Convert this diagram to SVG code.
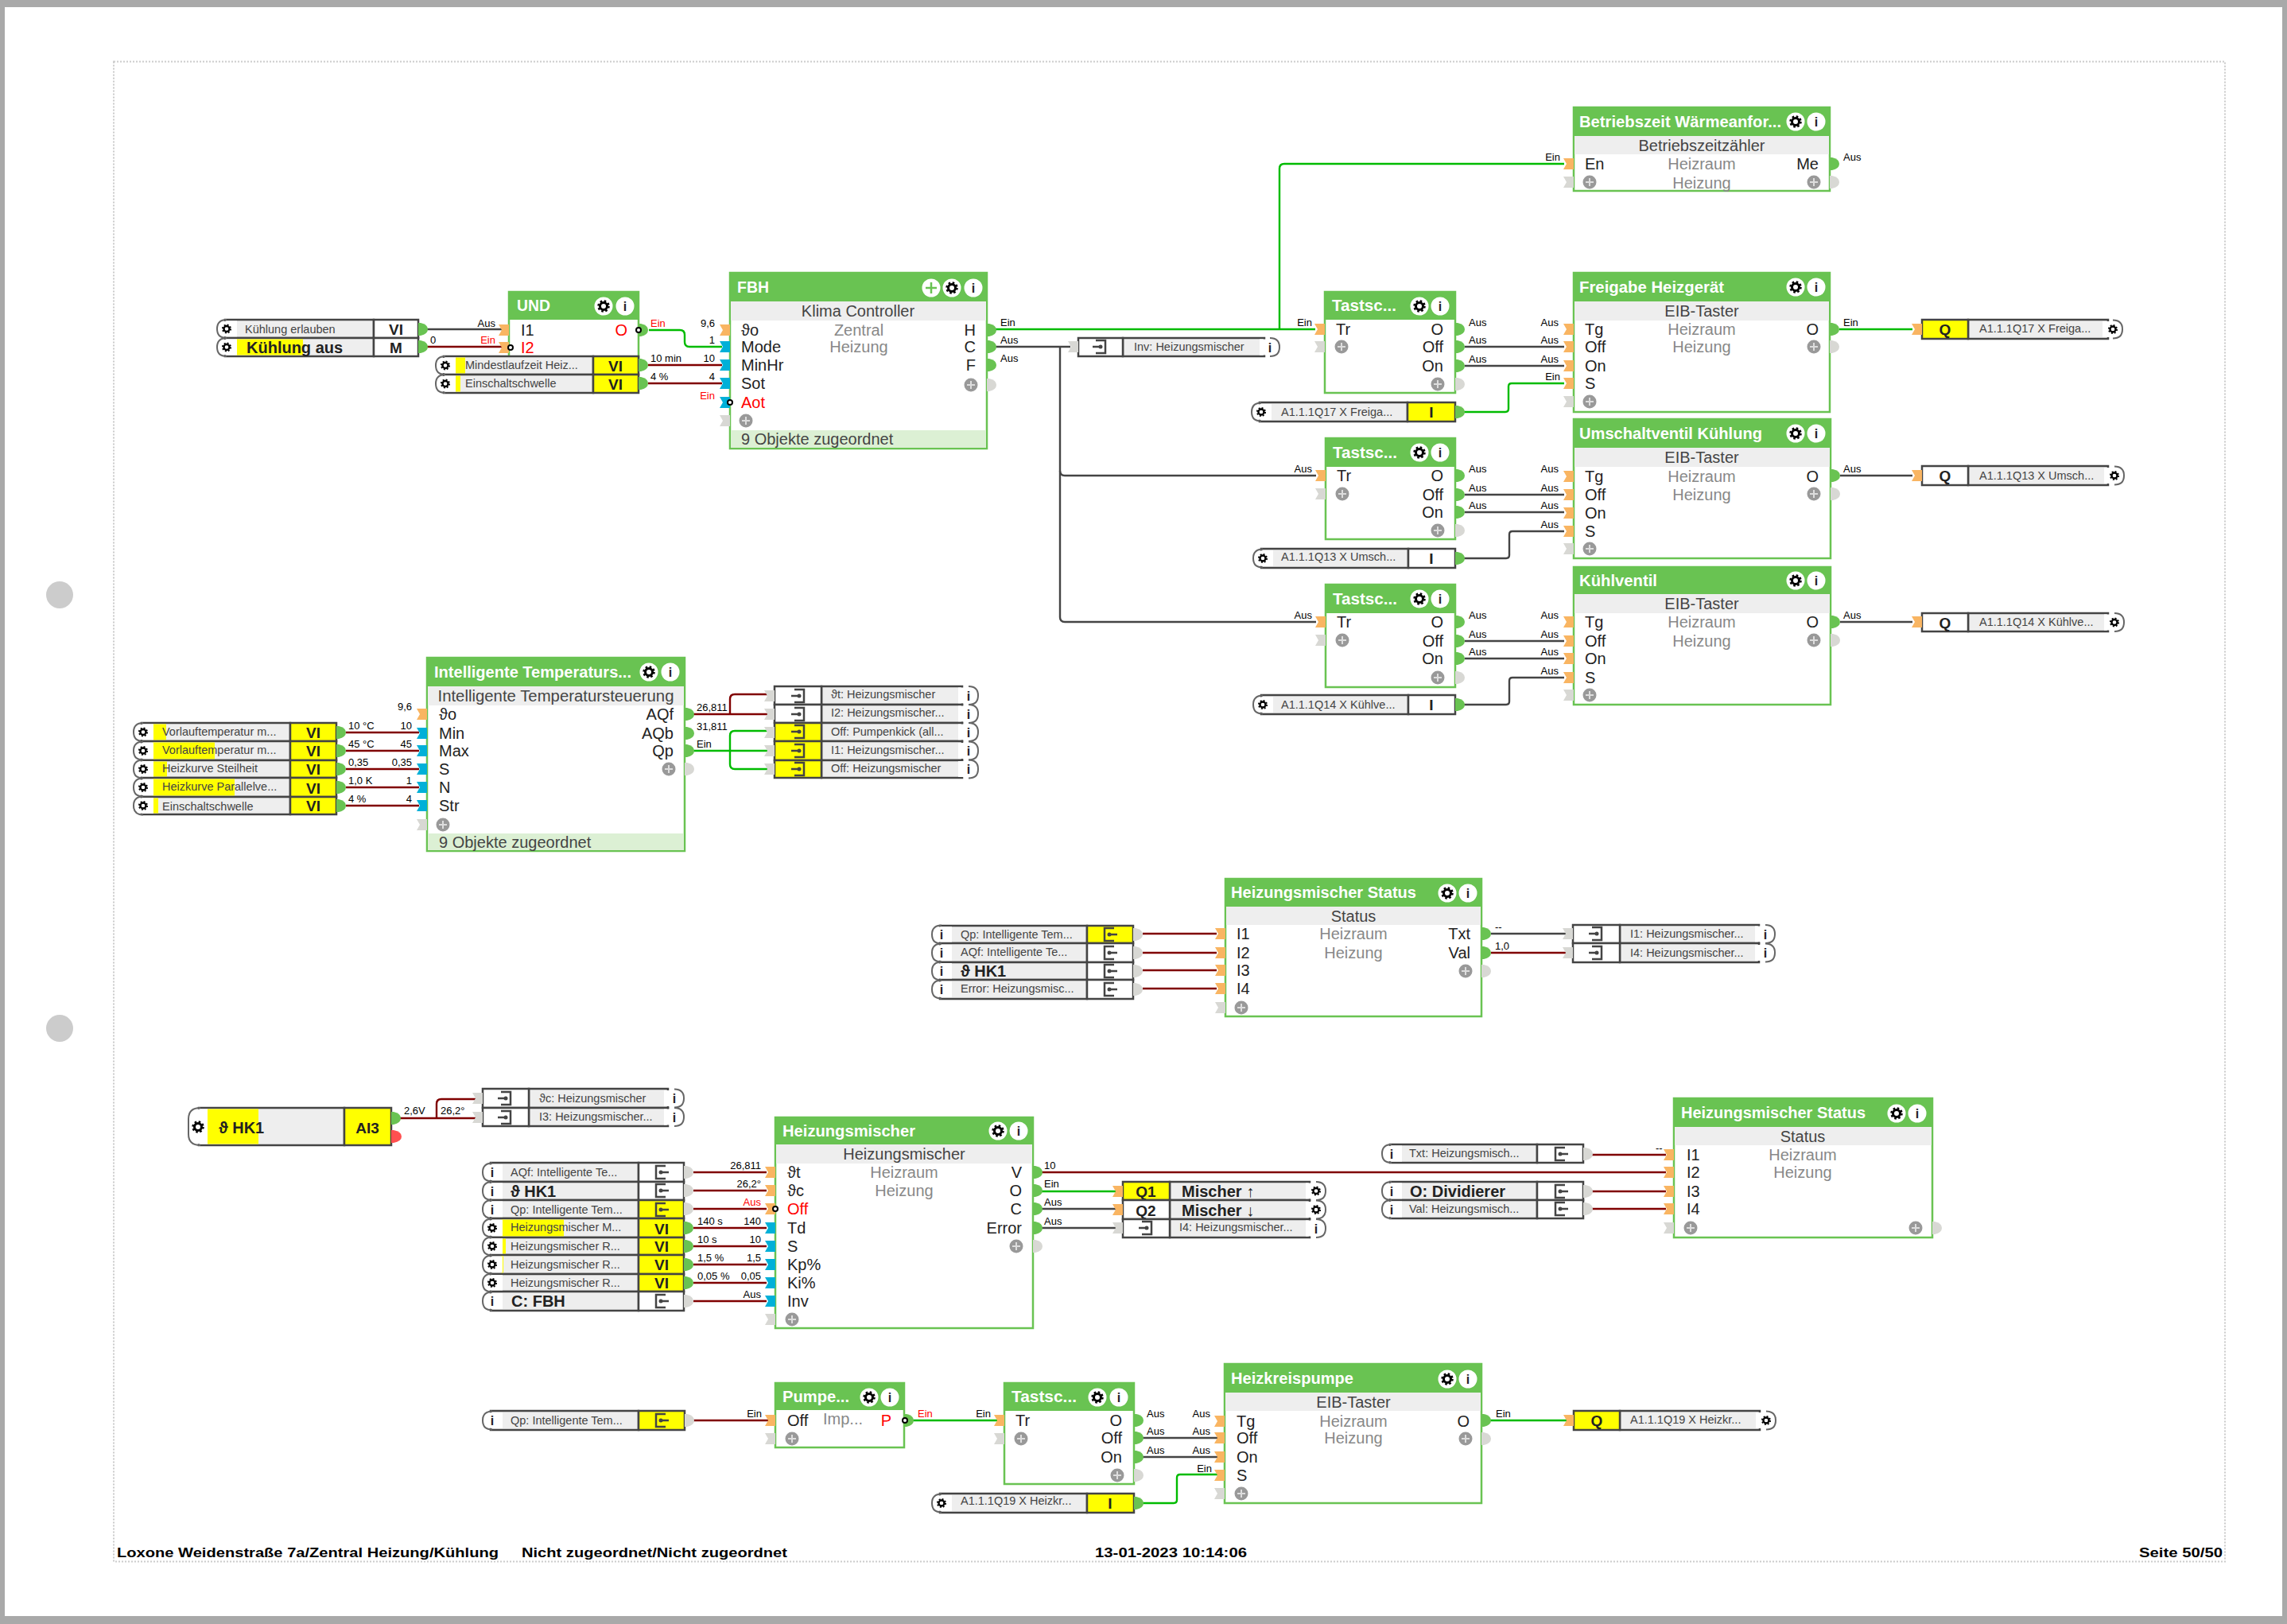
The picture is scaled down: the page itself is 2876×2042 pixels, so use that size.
<svg xmlns="http://www.w3.org/2000/svg" width="2876" height="2042" viewBox="0 0 2876 2042">
<style>
text{font-family:"Liberation Sans","DejaVu Sans",sans-serif}
.bb{fill:#fff;stroke:#69c352;stroke-width:2.5}
.hd{fill:#69c352}
.gb{fill:#eee}
.fb{fill:#dcf0d4}
.t{font-size:20px;font-weight:bold;fill:#fff}
.l{font-size:20px;fill:#222}
.e{font-size:20px;fill:#222;text-anchor:end}
.lr{font-size:20px;fill:#f00}
.er{font-size:20px;fill:#f00;text-anchor:end}
.c{font-size:20px;fill:#888;text-anchor:middle}
.g{font-size:20px;fill:#444;text-anchor:middle}
.o{font-size:20px;fill:#444}
.v{font-size:13px;fill:#000}
.ve{font-size:13px;fill:#000;text-anchor:end}
.r{font-size:13px;fill:#f00}
.re{font-size:13px;fill:#f00;text-anchor:end}
.s{font-size:14.500px;fill:#444}
.b{font-size:20px;font-weight:bold;fill:#222}
.k{font-size:19px;font-weight:bold;fill:#222;text-anchor:middle}
.f{font-size:17px;font-weight:bold;fill:#000}
.rb{fill:#eee;stroke:#444;stroke-width:2.5}
.rc{fill:#fff;stroke:#444;stroke-width:2.5}
.yc{fill:#ff0;stroke:#444;stroke-width:2.5}
.st{fill:#ff0}
.ii{font-size:16px;font-weight:bold;fill:#222;text-anchor:middle}
.w{fill:none;stroke-width:2.400}
.wr{stroke:#800000}
.wg{stroke:#00bb00}
.wk{stroke:#444}
</style>
<defs>
<g id="gear"><circle r="4.500" fill="none" stroke="#000" stroke-width="3"/><circle r="6.500" fill="none" stroke="#000" stroke-width="2.500" stroke-dasharray="2.500 2.600"/></g>
<g id="bg"><circle r="11.500" fill="#fff"/><use href="#gear"/></g>
<g id="bi"><circle r="11.500" fill="#fff"/><text class="ii" y="6">i</text></g>
<g id="bm"><circle r="11.500" fill="#fff"/><path d="M-7,0H7M0,-7V7" stroke="#69c352" stroke-width="2.500"/></g>
<g id="pi"><path d="M-13,-7H0V7H-13L-9,0Z" fill="#f9b562"/></g>
<g id="pb"><path d="M-13,-7H0V7H-13L-9,0Z" fill="#00b0d8"/></g>
<g id="pxl"><path d="M-13,-7H0V7H-13L-9,0Z" fill="#d8d8d4"/></g>
<g id="pg"><path d="M0,-8H3Q12,-6 12,0Q12,6 3,8H0Z" fill="#69c352"/></g>
<g id="pxr"><path d="M0,-8H3Q12,-6 12,0Q12,6 3,8H0Z" fill="#d8d8d4"/></g>
<g id="plus"><circle r="8.500" fill="#999"/><path d="M-5,0H5M0,-5V5" stroke="#ddd" stroke-width="2"/></g>
<g id="inv"><circle r="3" fill="#fff" stroke="#000" stroke-width="2"/></g>
<g id="capL"><path d="M25,-10H12Q2,-10 2,0Q2,10 12,10H25Z" fill="#fff"/><path d="M12,-11.500Q0,-11.500 0,0Q0,11.500 12,11.500" fill="none" stroke="#666" stroke-width="2"/></g>
<g id="capR"><path d="M-25,-10H-12Q-2,-10 -2,0Q-2,10 -12,10H-25Z" fill="#fff"/><path d="M-12,-11.500Q0,-11.500 0,0Q0,11.500 -12,11.500" fill="none" stroke="#666" stroke-width="2"/></g>
<g id="capLG"><use href="#capL"/><g transform="translate(12,0) scale(.78)"><use href="#gear"/></g></g>
<g id="capLI"><use href="#capL"/><text class="ii" x="12" y="6">i</text></g>
<g id="capRG"><use href="#capR"/><g transform="translate(-12,0) scale(.78)"><use href="#gear"/></g></g>
<g id="capRI"><use href="#capR"/><text class="ii" x="-12" y="6">i</text></g>
<g id="dIn"><path d="M-6,-8H6V8H-6M-10,0H0" fill="none" stroke="#444" stroke-width="2.500"/><circle r="2.500" fill="#444"/></g>
<g id="dOut"><path d="M6,-8H-6V8H6M0,0H10" fill="none" stroke="#444" stroke-width="2.500"/><circle r="2.500" fill="#444"/></g>
</defs>

<g id="page">
<rect width="2876" height="2042" fill="#a9a9a9"/>
<rect x="6" y="9" width="2864" height="2023" fill="#fff"/>
<rect x="143" y="77.500" width="2655" height="1886" fill="none" stroke="#ccc" stroke-width="2" stroke-dasharray="2 2"/>
<circle cx="75" cy="748" r="17" fill="#ccc"/>
<circle cx="75" cy="1293" r="17" fill="#ccc"/>
<text class="f" x="147" y="1958" textLength="480" lengthAdjust="spacingAndGlyphs">Loxone Weidenstraße 7a/Zentral Heizung/Kühlung</text>
<text class="f" x="656" y="1958" textLength="334" lengthAdjust="spacingAndGlyphs">Nicht zugeordnet/Nicht zugeordnet</text>
<text class="f" x="1377" y="1958" textLength="191" lengthAdjust="spacingAndGlyphs">13-01-2023 10:14:06</text>
<text class="f" x="2690" y="1958" textLength="105" lengthAdjust="spacingAndGlyphs">Seite 50/50</text>
</g>

<g id="connectors" class="w">
<path class="w wk" d="M536,414H632"/>
<path class="w wr" d="M536,436H632"/>
<path class="w wg" d="M816,415H855Q861,415 861,421V430Q861,436 867,436H908"/>
<path class="w wr" d="M815,459H908"/>
<path class="w wr" d="M815,482H908"/>
<path class="w wg" d="M1251,414H1654"/>
<path class="w wg" d="M1609,414V212Q1609,206 1615,206H1967"/>
<path class="w wk" d="M1251,436H1346"/>
<path class="w wk" d="M1333,436V592Q1333,598 1339,598H1655"/>
<path class="w wk" d="M1333,592V776Q1333,782 1339,782H1655"/>
<path class="w wk" d="M1842,436H1967"/>
<path class="w wk" d="M1842,460H1967"/>
<path class="w wg" d="M1840,518H1893Q1897,518 1897,514V486Q1897,482 1901,482H1967"/>
<path class="w wg" d="M2313,414H2405"/>
<path class="w wk" d="M1842,622H1967"/>
<path class="w wk" d="M1842,644H1967"/>
<path class="w wk" d="M1840,702H1894Q1898,702 1898,698V672Q1898,668 1902,668H1967"/>
<path class="w wk" d="M2314,598H2405"/>
<path class="w wk" d="M1842,806H1967"/>
<path class="w wk" d="M1842,828H1967"/>
<path class="w wk" d="M1840,886H1894Q1898,886 1898,882V856Q1898,852 1902,852H1967"/>
<path class="w wk" d="M2314,782H2405"/>
<path class="w wr" d="M435,921H527"/>
<path class="w wr" d="M435,944H527"/>
<path class="w wr" d="M435,967H527"/>
<path class="w wr" d="M435,990H527"/>
<path class="w wr" d="M435,1013H527"/>
<path class="w wr" d="M871,898H968"/>
<path class="w wr" d="M918,898V879Q918,873 924,873H968"/>
<path class="w wg" d="M871,944H968"/>
<path class="w wg" d="M918,944V925Q918,919 924,919H968"/>
<path class="w wg" d="M918,944V961Q918,967 924,967H968"/>
<path class="w wr" d="M1437,1174H1530"/>
<path class="w wr" d="M1437,1198H1530"/>
<path class="w wr" d="M1437,1220H1530"/>
<path class="w wr" d="M1437,1243H1530"/>
<path class="w wk" d="M1875,1174H1972"/>
<path class="w wr" d="M1875,1198H1972"/>
<path class="w wr" d="M502,1406H600"/>
<path class="w wr" d="M549,1406V1388Q549,1382 555,1382H600"/>
<path class="w wr" d="M872,1474H964"/>
<path class="w wr" d="M872,1497H964"/>
<path class="w wr" d="M872,1520H964"/>
<path class="w wr" d="M872,1544H964"/>
<path class="w wr" d="M872,1567H964"/>
<path class="w wr" d="M872,1590H964"/>
<path class="w wr" d="M872,1613H964"/>
<path class="w wr" d="M872,1636H964"/>
<path class="w wr" d="M1309,1474H2095"/>
<path class="w wg" d="M1309,1498H1405"/>
<path class="w wk" d="M1309,1520H1405"/>
<path class="w wk" d="M1309,1544H1405"/>
<path class="w wr" d="M2002,1452H2095"/>
<path class="w wr" d="M2002,1498H2095"/>
<path class="w wr" d="M2002,1520H2095"/>
<path class="w wr" d="M872,1786H968"/>
<path class="w wg" d="M1147,1786H1259"/>
<path class="w wk" d="M1436,1808H1533"/>
<path class="w wk" d="M1436,1832H1533"/>
<path class="w wg" d="M1436,1890H1476Q1480,1890 1480,1886V1858Q1480,1854 1484,1854H1533"/>
<path class="w wg" d="M1873,1786H1970"/>
</g>

<g id="und">
<rect class="bb" x="640" y="367" width="163" height="90"/><rect class="hd" x="640" y="367" width="163" height="35"/>
<text class="t" x="650" y="391" textLength="42" lengthAdjust="spacingAndGlyphs">UND</text>
<use href="#bg" x="759" y="385"/><use href="#bi" x="786" y="385"/>
<use href="#pi" x="640" y="415"/><use href="#pi" x="640" y="437"/><use href="#inv" x="642" y="437"/>
<text class="l" x="655" y="422">I1</text><text class="lr" x="655" y="444">I2</text>
<text class="er" x="789" y="422">O</text>
<use href="#pg" x="803" y="415"/><use href="#inv" x="803" y="415"/>
<text class="ve" x="623" y="411">Aus</text><text class="re" x="623" y="432">Ein</text><text class="v" x="541" y="432">0</text><text class="r" x="818" y="411">Ein</text>
</g>
<g id="kuehlung-erlauben"><rect class="rb" x="283" y="402" width="187" height="23"/><rect class="rc" x="470" y="402" width="56" height="23"/><use href="#capLG" x="273" y="413.500"/><text class="s" x="308" y="419">Kühlung erlauben</text><text class="k" x="498" y="421">VI</text><use href="#pg" x="526" y="414"/></g>
<g id="kuehlung-aus"><rect class="rb" x="283" y="425" width="187" height="23"/><rect class="st" x="296" y="426.500" width="85" height="20"/><rect class="rc" x="470" y="425" width="56" height="23"/><use href="#capLG" x="273" y="436.500"/><text class="b" x="310" y="444">Kühlung aus</text><text class="k" x="498" y="444">M</text><use href="#pg" x="526" y="436"/></g>
<g id="mindestlaufzeit"><rect class="rb" x="558" y="448" width="188" height="23"/><rect class="st" x="573" y="449.500" width="12" height="20"/><rect class="yc" x="746" y="448" width="57" height="23"/><use href="#capLG" x="548" y="459.500"/><text class="s" x="585" y="464">Mindestlaufzeit  Heiz...</text><text class="k" x="774" y="467">VI</text><use href="#pg" x="803" y="459"/></g>
<g id="einschaltschwelle-1"><rect class="rb" x="558" y="471" width="188" height="23"/><rect class="st" x="573" y="472.500" width="6" height="20"/><rect class="yc" x="746" y="471" width="57" height="23"/><use href="#capLG" x="548" y="482.500"/><text class="s" x="585" y="487">Einschaltschwelle</text><text class="k" x="774" y="490">VI</text><use href="#pg" x="803" y="482"/></g>
<text class="v" x="818" y="455">10 min</text><text class="ve" x="899" y="455">10</text><text class="v" x="818" y="478">4 %</text><text class="ve" x="899" y="478">4</text>

<g id="fbh">
<rect class="bb" x="918" y="343" width="323" height="221"/><rect class="hd" x="918" y="343" width="323" height="36"/><rect class="gb" x="919" y="379" width="321" height="24"/><rect class="fb" x="919" y="541" width="321" height="22"/>
<text class="t" x="927" y="368" textLength="40" lengthAdjust="spacingAndGlyphs">FBH</text>
<use href="#bm" x="1171" y="362"/><use href="#bg" x="1197" y="362"/><use href="#bi" x="1224" y="362"/>
<text class="g" x="1079" y="398">Klima Controller</text>
<use href="#pi" x="918" y="415"/><use href="#pb" x="918" y="436"/><use href="#pb" x="918" y="459"/><use href="#pb" x="918" y="482"/><use href="#pb" x="918" y="506"/><use href="#inv" x="918" y="506"/><use href="#pxl" x="918" y="529"/><use href="#plus" x="938" y="529"/>
<text class="l" x="932" y="422">ϑo</text><text class="l" x="932" y="443">Mode</text><text class="l" x="932" y="466">MinHr</text><text class="l" x="932" y="489">Sot</text><text class="lr" x="932" y="513">Aot</text>
<text class="c" x="1080" y="422">Zentral</text><text class="c" x="1080" y="443">Heizung</text>
<text class="e" x="1227" y="422">H</text><text class="e" x="1227" y="443">C</text><text class="e" x="1227" y="466">F</text>
<use href="#pg" x="1241" y="415"/><use href="#pg" x="1241" y="436"/><use href="#pg" x="1241" y="459"/><use href="#plus" x="1221" y="484"/><use href="#pxr" x="1241" y="484"/>
<text class="o" x="932" y="559">9 Objekte zugeordnet</text>
<text class="ve" x="899" y="411">9,6</text><text class="ve" x="899" y="432">1</text><text class="re" x="899" y="502">Ein</text>
<text class="v" x="1258" y="410">Ein</text><text class="v" x="1258" y="432">Aus</text><text class="v" x="1258" y="455">Aus</text>
</g>
<g id="inv-heizungsmischer"><rect class="rb" x="1412" y="425" width="178" height="23"/><rect class="rc" x="1356" y="425" width="56" height="23"/><use href="#pxl" x="1356" y="436"/><use href="#capRI" x="1609" y="436.500"/><use href="#dIn" x="1384" y="436"/><text class="s" x="1426" y="441">Inv: Heizungsmischer</text></g>

<g id="betriebszeit">
<rect class="bb" x="1979" y="135" width="322" height="105"/><rect class="hd" x="1979" y="135" width="322" height="36"/><rect class="gb" x="1980" y="171" width="320" height="23"/>
<text class="t" x="1986" y="160" textLength="254" lengthAdjust="spacingAndGlyphs">Betriebszeit Wärmeanfor...</text>
<use href="#bg" x="2258" y="153"/><use href="#bi" x="2284" y="153"/>
<text class="g" x="2140" y="190">Betriebszeitzähler</text>
<use href="#pi" x="1979" y="206"/><use href="#pxl" x="1979" y="229"/><use href="#plus" x="1999" y="229"/>
<text class="l" x="1993" y="213">En</text><text class="c" x="2140" y="213">Heizraum</text><text class="c" x="2140" y="237">Heizung</text><text class="e" x="2287" y="213">Me</text>
<use href="#pg" x="2301" y="206"/><use href="#plus" x="2281" y="229"/><use href="#pxr" x="2301" y="229"/>
<text class="ve" x="1962" y="202">Ein</text><text class="v" x="2318" y="202">Aus</text>
</g>

<g id="tastsc-1">
<rect class="bb" x="1666" y="367" width="164" height="127"/><rect class="hd" x="1666" y="367" width="164" height="35"/>
<text class="t" x="1675" y="391" textLength="81" lengthAdjust="spacingAndGlyphs">Tastsc...</text>
<use href="#bg" x="1785" y="385"/><use href="#bi" x="1811" y="385"/>
<use href="#pi" x="1666" y="414"/><use href="#pxl" x="1666" y="436"/><use href="#plus" x="1687" y="436"/>
<text class="l" x="1680" y="421">Tr</text><text class="e" x="1815" y="421">O</text><text class="e" x="1815" y="443">Off</text><text class="e" x="1815" y="467">On</text>
<use href="#pg" x="1830" y="414"/><use href="#pg" x="1830" y="436"/><use href="#pg" x="1830" y="460"/><use href="#plus" x="1808" y="483"/><use href="#pxr" x="1830" y="483"/>
<text class="ve" x="1650" y="410">Ein</text><text class="v" x="1847" y="410">Aus</text><text class="v" x="1847" y="432">Aus</text><text class="v" x="1847" y="456">Aus</text>
</g>
<g id="freigabe-heizgeraet">
<rect class="bb" x="1979" y="343" width="322" height="175"/><rect class="hd" x="1979" y="343" width="322" height="36"/><rect class="gb" x="1980" y="379" width="320" height="24"/>
<text class="t" x="1986" y="368" textLength="182" lengthAdjust="spacingAndGlyphs">Freigabe Heizgerät</text>
<use href="#bg" x="2258" y="361"/><use href="#bi" x="2284" y="361"/>
<text class="g" x="2140" y="398">EIB-Taster</text>
<use href="#pi" x="1979" y="414"/><use href="#pi" x="1979" y="436"/><use href="#pi" x="1979" y="460"/><use href="#pi" x="1979" y="482"/><use href="#pxl" x="1979" y="505"/><use href="#plus" x="1999" y="505"/>
<text class="l" x="1993" y="421">Tg</text><text class="l" x="1993" y="443">Off</text><text class="l" x="1993" y="467">On</text><text class="l" x="1993" y="489">S</text>
<text class="c" x="2140" y="421">Heizraum</text><text class="c" x="2140" y="443">Heizung</text><text class="e" x="2287" y="421">O</text>
<use href="#pg" x="2301" y="414"/><use href="#plus" x="2281" y="436"/><use href="#pxr" x="2301" y="436"/>
<text class="ve" x="1960" y="410">Aus</text><text class="ve" x="1960" y="432">Aus</text><text class="ve" x="1960" y="456">Aus</text><text class="ve" x="1962" y="478">Ein</text><text class="v" x="2318" y="410">Ein</text>
</g>
<g id="q17"><rect class="rb" x="2475" y="402" width="176" height="24"/><rect class="yc" x="2417" y="402" width="58" height="24"/><use href="#pi" x="2417" y="414"/><use href="#capRG" x="2669" y="414"/><text class="k" x="2446" y="421">Q</text><text class="s" x="2489" y="418">A1.1.1Q17 X Freiga...</text></g>
<g id="i17"><rect class="rb" x="1584" y="506" width="186" height="24"/><rect class="yc" x="1770" y="506" width="60" height="24"/><use href="#capLG" x="1574" y="518"/><use href="#pg" x="1830" y="518"/><text class="s" x="1611" y="523">A1.1.1Q17 X Freiga...</text><text class="k" x="1800" y="525">I</text></g>

<g id="tastsc-2">
<rect class="bb" x="1667" y="551" width="163" height="127"/><rect class="hd" x="1667" y="551" width="163" height="36"/>
<text class="t" x="1676" y="576" textLength="81" lengthAdjust="spacingAndGlyphs">Tastsc...</text>
<use href="#bg" x="1785" y="569"/><use href="#bi" x="1811" y="569"/>
<use href="#pi" x="1667" y="598"/><use href="#pxl" x="1667" y="621"/><use href="#plus" x="1688" y="621"/>
<text class="l" x="1681" y="605">Tr</text><text class="e" x="1815" y="605">O</text><text class="e" x="1815" y="629">Off</text><text class="e" x="1815" y="651">On</text>
<use href="#pg" x="1830" y="598"/><use href="#pg" x="1830" y="622"/><use href="#pg" x="1830" y="644"/><use href="#plus" x="1808" y="667"/><use href="#pxr" x="1830" y="667"/>
<text class="ve" x="1650" y="594">Aus</text><text class="v" x="1847" y="594">Aus</text><text class="v" x="1847" y="618">Aus</text><text class="v" x="1847" y="640">Aus</text>
</g>
<g id="umschaltventil">
<rect class="bb" x="1979" y="527" width="323" height="175"/><rect class="hd" x="1979" y="527" width="323" height="36"/><rect class="gb" x="1980" y="563" width="321" height="24"/>
<text class="t" x="1986" y="552" textLength="230" lengthAdjust="spacingAndGlyphs">Umschaltventil Kühlung</text>
<use href="#bg" x="2258" y="545"/><use href="#bi" x="2284" y="545"/>
<text class="g" x="2140" y="582">EIB-Taster</text>
<use href="#pi" x="1979" y="599"/><use href="#pi" x="1979" y="622"/><use href="#pi" x="1979" y="645"/><use href="#pi" x="1979" y="668"/><use href="#pxl" x="1979" y="690"/><use href="#plus" x="1999" y="690"/>
<text class="l" x="1993" y="606">Tg</text><text class="l" x="1993" y="629">Off</text><text class="l" x="1993" y="652">On</text><text class="l" x="1993" y="675">S</text>
<text class="c" x="2140" y="606">Heizraum</text><text class="c" x="2140" y="629">Heizung</text><text class="e" x="2287" y="606">O</text>
<use href="#pg" x="2302" y="598"/><use href="#plus" x="2281" y="621"/><use href="#pxr" x="2302" y="621"/>
<text class="ve" x="1960" y="594">Aus</text><text class="ve" x="1960" y="618">Aus</text><text class="ve" x="1960" y="640">Aus</text><text class="ve" x="1960" y="664">Aus</text><text class="v" x="2318" y="594">Aus</text>
</g>
<g id="q13"><rect class="rb" x="2475" y="586" width="176" height="24"/><rect class="rc" x="2417" y="586" width="58" height="24"/><use href="#pi" x="2417" y="598"/><use href="#capRG" x="2671" y="598"/><text class="k" x="2446" y="605">Q</text><text class="s" x="2489" y="603">A1.1.1Q13 X Umsch...</text></g>
<g id="i13"><rect class="rb" x="1586" y="690" width="185" height="24"/><rect class="rc" x="1771" y="690" width="59" height="24"/><use href="#capLG" x="1576" y="702"/><use href="#pg" x="1830" y="702"/><text class="s" x="1611" y="705">A1.1.1Q13 X Umsch...</text><text class="k" x="1800" y="709">I</text></g>

<g id="tastsc-3">
<rect class="bb" x="1667" y="735" width="163" height="129"/><rect class="hd" x="1667" y="735" width="163" height="36"/>
<text class="t" x="1676" y="760" textLength="81" lengthAdjust="spacingAndGlyphs">Tastsc...</text>
<use href="#bg" x="1785" y="753"/><use href="#bi" x="1811" y="753"/>
<use href="#pi" x="1667" y="782"/><use href="#pxl" x="1667" y="805"/><use href="#plus" x="1688" y="805"/>
<text class="l" x="1681" y="789">Tr</text><text class="e" x="1815" y="789">O</text><text class="e" x="1815" y="813">Off</text><text class="e" x="1815" y="835">On</text>
<use href="#pg" x="1830" y="782"/><use href="#pg" x="1830" y="806"/><use href="#pg" x="1830" y="828"/><use href="#plus" x="1808" y="852"/><use href="#pxr" x="1830" y="852"/>
<text class="ve" x="1650" y="778">Aus</text><text class="v" x="1847" y="778">Aus</text><text class="v" x="1847" y="802">Aus</text><text class="v" x="1847" y="824">Aus</text>
</g>
<g id="kuehlventil">
<rect class="bb" x="1979" y="713" width="323" height="173"/><rect class="hd" x="1979" y="713" width="323" height="34"/><rect class="gb" x="1980" y="747" width="321" height="24"/>
<text class="t" x="1986" y="737" textLength="98" lengthAdjust="spacingAndGlyphs">Kühlventil</text>
<use href="#bg" x="2258" y="730"/><use href="#bi" x="2284" y="730"/>
<text class="g" x="2140" y="766">EIB-Taster</text>
<use href="#pi" x="1979" y="782"/><use href="#pi" x="1979" y="806"/><use href="#pi" x="1979" y="828"/><use href="#pi" x="1979" y="852"/><use href="#pxl" x="1979" y="874"/><use href="#plus" x="1999" y="874"/>
<text class="l" x="1993" y="789">Tg</text><text class="l" x="1993" y="813">Off</text><text class="l" x="1993" y="835">On</text><text class="l" x="1993" y="859">S</text>
<text class="c" x="2140" y="789">Heizraum</text><text class="c" x="2140" y="813">Heizung</text><text class="e" x="2287" y="789">O</text>
<use href="#pg" x="2302" y="782"/><use href="#plus" x="2281" y="805"/><use href="#pxr" x="2302" y="805"/>
<text class="ve" x="1960" y="778">Aus</text><text class="ve" x="1960" y="802">Aus</text><text class="ve" x="1960" y="824">Aus</text><text class="ve" x="1960" y="848">Aus</text><text class="v" x="2318" y="778">Aus</text>
</g>
<g id="q14"><rect class="rb" x="2475" y="771" width="176" height="23"/><rect class="rc" x="2417" y="771" width="58" height="23"/><use href="#pi" x="2417" y="782"/><use href="#capRG" x="2671" y="782.500"/><text class="k" x="2446" y="790">Q</text><text class="s" x="2489" y="787">A1.1.1Q14 X Kühlve...</text></g>
<g id="i14"><rect class="rb" x="1586" y="874" width="185" height="24"/><rect class="rc" x="1771" y="874" width="59" height="24"/><use href="#capLG" x="1576" y="886"/><use href="#pg" x="1830" y="886"/><text class="s" x="1611" y="891">A1.1.1Q14 X Kühlve...</text><text class="k" x="1800" y="893">I</text></g>

<g id="intelligente-temperatursteuerung">
<rect class="bb" x="537" y="827" width="324" height="243"/><rect class="hd" x="537" y="827" width="324" height="36"/><rect class="gb" x="538" y="863" width="322" height="24"/><rect class="fb" x="538" y="1048" width="322" height="21"/>
<text class="t" x="546" y="852" textLength="248" lengthAdjust="spacingAndGlyphs">Intelligente Temperaturs...</text>
<use href="#bg" x="816" y="845"/><use href="#bi" x="843" y="845"/>
<text class="g" x="699" y="882" textLength="297" lengthAdjust="spacingAndGlyphs">Intelligente Temperatursteuerung</text>
<use href="#pi" x="537" y="898"/><use href="#pb" x="537" y="922"/><use href="#pb" x="537" y="944"/><use href="#pb" x="537" y="967"/><use href="#pb" x="537" y="990"/><use href="#pb" x="537" y="1013"/><use href="#pxl" x="537" y="1037"/><use href="#plus" x="557" y="1037"/>
<text class="l" x="552" y="905">ϑo</text><text class="l" x="552" y="929">Min</text><text class="l" x="552" y="951">Max</text><text class="l" x="552" y="974">S</text><text class="l" x="552" y="997">N</text><text class="l" x="552" y="1020">Str</text>
<text class="e" x="847" y="905">AQf</text><text class="e" x="847" y="929">AQb</text><text class="e" x="847" y="951">Qp</text>
<use href="#pg" x="861" y="898"/><use href="#pg" x="861" y="922"/><use href="#pg" x="861" y="944"/><use href="#plus" x="841" y="967"/><use href="#pxr" x="861" y="967"/>
<text class="o" x="552" y="1066">9 Objekte zugeordnet</text>
<text class="ve" x="518" y="893">9,6</text>
<text class="v" x="876" y="894">26,811</text><text class="v" x="876" y="918">31,811</text><text class="v" x="876" y="940">Ein</text>
<text class="v" x="438" y="917">10 °C</text><text class="ve" x="518" y="917">10</text>
<text class="v" x="438" y="940">45 °C</text><text class="ve" x="518" y="940">45</text>
<text class="v" x="438" y="963">0,35</text><text class="ve" x="518" y="963">0,35</text>
<text class="v" x="438" y="986">1,0 K</text><text class="ve" x="518" y="986">1</text>
<text class="v" x="438" y="1009">4 %</text><text class="ve" x="518" y="1009">4</text>
</g>
<g id="vi-1"><rect class="rb" x="178" y="909" width="187" height="23"/><rect class="st" x="192" y="910.500" width="17" height="20"/><rect class="yc" x="365" y="909" width="58" height="23"/><use href="#capLG" x="168" y="920.500"/><use href="#pg" x="423" y="921"/><text class="s" x="204" y="925">Vorlauftemperatur  m...</text><text class="k" x="394" y="928">VI</text></g>
<g id="vi-2"><rect class="rb" x="178" y="932" width="187" height="24"/><rect class="st" x="192" y="933.500" width="78" height="21"/><rect class="yc" x="365" y="932" width="58" height="24"/><use href="#capLG" x="168" y="944"/><use href="#pg" x="423" y="944"/><text class="s" x="204" y="948">Vorlauftemperatur  m...</text><text class="k" x="394" y="951">VI</text></g>
<g id="vi-3"><rect class="rb" x="178" y="956" width="187" height="22"/><rect class="st" x="192" y="957.500" width="18" height="19"/><rect class="yc" x="365" y="956" width="58" height="22"/><use href="#capLG" x="168" y="967"/><use href="#pg" x="423" y="967"/><text class="s" x="204" y="971">Heizkurve Steilheit</text><text class="k" x="394" y="974">VI</text></g>
<g id="vi-4"><rect class="rb" x="178" y="978" width="187" height="24"/><rect class="st" x="192" y="979.500" width="103" height="21"/><rect class="yc" x="365" y="978" width="58" height="24"/><use href="#capLG" x="168" y="990"/><use href="#pg" x="423" y="990"/><text class="s" x="204" y="994">Heizkurve Parallelve...</text><text class="k" x="394" y="998">VI</text></g>
<g id="vi-5"><rect class="rb" x="178" y="1002" width="187" height="22"/><rect class="st" x="192" y="1003.500" width="7" height="19"/><rect class="yc" x="365" y="1002" width="58" height="22"/><use href="#capLG" x="168" y="1013"/><use href="#pg" x="423" y="1013"/><text class="s" x="204" y="1019">Einschaltschwelle</text><text class="k" x="394" y="1020">VI</text></g>
<g id="ref-1"><rect class="rb" x="1033" y="863" width="177" height="23"/><rect class="rc" x="974" y="863" width="59" height="23"/><use href="#pxl" x="974" y="875"/><use href="#capRI" x="1230" y="874.500"/><use href="#dIn" x="1005" y="875"/><text class="s" x="1045" y="878">ϑt: Heizungsmischer</text></g>
<g id="ref-2"><rect class="rb" x="1033" y="886" width="177" height="23"/><rect class="rc" x="974" y="886" width="59" height="23"/><use href="#pxl" x="974" y="898"/><use href="#capRI" x="1230" y="897.500"/><use href="#dIn" x="1005" y="898"/><text class="s" x="1045" y="901">I2: Heizungsmischer...</text></g>
<g id="ref-3"><rect class="rb" x="1033" y="909" width="177" height="23"/><rect class="yc" x="974" y="909" width="59" height="23"/><use href="#pxl" x="974" y="921"/><use href="#capRI" x="1230" y="920.500"/><use href="#dIn" x="1005" y="920"/><text class="s" x="1045" y="925">Off: Pumpenkick (all...</text></g>
<g id="ref-4"><rect class="rb" x="1033" y="932" width="177" height="24"/><rect class="yc" x="974" y="932" width="59" height="24"/><use href="#pxl" x="974" y="944"/><use href="#capRI" x="1230" y="944"/><use href="#dIn" x="1005" y="944"/><text class="s" x="1045" y="948">I1: Heizungsmischer...</text></g>
<g id="ref-5"><rect class="rb" x="1033" y="956" width="177" height="22"/><rect class="yc" x="974" y="956" width="59" height="22"/><use href="#pxl" x="974" y="967"/><use href="#capRI" x="1230" y="967"/><use href="#dIn" x="1005" y="967"/><text class="s" x="1045" y="971">Off: Heizungsmischer</text></g>

<g id="status-1">
<rect class="bb" x="1541" y="1105" width="322" height="173"/><rect class="hd" x="1541" y="1105" width="322" height="35"/><rect class="gb" x="1542" y="1140" width="320" height="23"/>
<text class="t" x="1548" y="1129" textLength="233" lengthAdjust="spacingAndGlyphs">Heizungsmischer Status</text>
<use href="#bg" x="1820" y="1123"/><use href="#bi" x="1846" y="1123"/>
<text class="g" x="1702" y="1159">Status</text>
<use href="#pi" x="1541" y="1174"/><use href="#pi" x="1541" y="1198"/><use href="#pi" x="1541" y="1220"/><use href="#pi" x="1541" y="1243"/><use href="#pxl" x="1541" y="1267"/><use href="#plus" x="1561" y="1267"/>
<text class="l" x="1555" y="1181">I1</text><text class="l" x="1555" y="1205">I2</text><text class="l" x="1555" y="1227">I3</text><text class="l" x="1555" y="1250">I4</text>
<text class="c" x="1702" y="1181">Heizraum</text><text class="c" x="1702" y="1205">Heizung</text>
<text class="e" x="1849" y="1181">Txt</text><text class="e" x="1849" y="1205">Val</text>
<use href="#pg" x="1863" y="1174"/><use href="#pg" x="1863" y="1198"/><use href="#plus" x="1843" y="1221"/><use href="#pxr" x="1863" y="1221"/>
<text class="v" x="1880" y="1170">--</text><text class="v" x="1880" y="1194">1,0</text>
</g>
<g id="s1-in-1"><rect class="rb" x="1182" y="1164" width="185" height="22"/><rect class="yc" x="1367" y="1164" width="58" height="22"/><use href="#pxr" x="1425" y="1175"/><use href="#capLI" x="1172" y="1175"/><use href="#dOut" x="1395" y="1175"/><text class="s" x="1208" y="1180">Qp: Intelligente Tem...</text></g>
<g id="s1-in-2"><rect class="rb" x="1182" y="1186" width="185" height="24"/><rect class="rc" x="1367" y="1186" width="58" height="24"/><use href="#pxr" x="1425" y="1198"/><use href="#capLI" x="1172" y="1198"/><use href="#dOut" x="1395" y="1198"/><text class="s" x="1208" y="1202">AQf: Intelligente Te...</text></g>
<g id="s1-in-3"><rect class="rb" x="1182" y="1210" width="185" height="22"/><rect class="rc" x="1367" y="1210" width="58" height="22"/><use href="#pxr" x="1425" y="1221"/><use href="#capLI" x="1172" y="1221"/><use href="#dOut" x="1395" y="1221"/><text class="b" x="1208" y="1228">ϑ HK1</text></g>
<g id="s1-in-4"><rect class="rb" x="1182" y="1232" width="185" height="24"/><rect class="rc" x="1367" y="1232" width="58" height="24"/><use href="#pxr" x="1425" y="1244"/><use href="#capLI" x="1172" y="1244"/><use href="#dOut" x="1395" y="1244"/><text class="s" x="1208" y="1248">Error: Heizungsmisc...</text></g>
<g id="s1-out-1"><rect class="rb" x="2037" y="1163" width="175" height="23"/><rect class="rc" x="1978" y="1163" width="59" height="23"/><use href="#pxl" x="1978" y="1174"/><use href="#capRI" x="2232" y="1174.500"/><use href="#dIn" x="2008" y="1174"/><text class="s" x="2050" y="1179">I1: Heizungsmischer...</text></g>
<g id="s1-out-2"><rect class="rb" x="2037" y="1186" width="175" height="24"/><rect class="rc" x="1978" y="1186" width="59" height="24"/><use href="#pxl" x="1978" y="1198"/><use href="#capRI" x="2232" y="1198"/><use href="#dIn" x="2008" y="1198"/><text class="s" x="2050" y="1203">I4: Heizungsmischer...</text></g>

<g id="hk1">
<rect class="rb" x="250" y="1393" width="183" height="47"/><rect class="st" x="261" y="1394.500" width="64" height="44"/><rect class="yc" x="433" y="1393" width="59" height="47"/>
<path d="M261,1394.500H252Q239,1394.500 239,1407V1426Q239,1438.500 252,1438.500H261Z" fill="#fff"/><path d="M252,1393Q237,1393 237,1407V1426Q237,1440 252,1440" fill="none" stroke="#666" stroke-width="2"/>
<use href="#gear" x="249" y="1417"/><text class="b" x="275" y="1425">ϑ HK1</text><text class="k" x="462" y="1425">AI3</text>
<use href="#pg" x="492" y="1406"/><path d="M492,1421H495Q505,1423 505,1429Q505,1435 495,1437H492Z" fill="#ff5050"/>
<text class="v" x="508" y="1401">2,6V</text><text class="v" x="554" y="1401">26,2°</text>
</g>
<g id="hk1-out-1"><rect class="rb" x="665" y="1369" width="175" height="24"/><rect class="rc" x="607" y="1369" width="58" height="24"/><use href="#pxl" x="607" y="1381"/><use href="#capRI" x="860" y="1381"/><use href="#dIn" x="636" y="1381"/><text class="s" x="678" y="1386">ϑc: Heizungsmischer</text></g>
<g id="hk1-out-2"><rect class="rb" x="665" y="1393" width="175" height="23"/><rect class="rc" x="607" y="1393" width="58" height="23"/><use href="#pxl" x="607" y="1405"/><use href="#capRI" x="860" y="1404.500"/><use href="#dIn" x="636" y="1405"/><text class="s" x="678" y="1409">I3: Heizungsmischer...</text></g>

<g id="heizungsmischer">
<rect class="bb" x="975" y="1405" width="324" height="265"/><rect class="hd" x="975" y="1405" width="324" height="34"/><rect class="gb" x="976" y="1439" width="322" height="24"/>
<text class="t" x="984" y="1429" textLength="167" lengthAdjust="spacingAndGlyphs">Heizungsmischer</text>
<use href="#bg" x="1255" y="1422"/><use href="#bi" x="1281" y="1422"/>
<text class="g" x="1137" y="1458">Heizungsmischer</text>
<use href="#pi" x="975" y="1474"/><use href="#pi" x="975" y="1497"/><use href="#pi" x="975" y="1520"/><use href="#inv" x="975" y="1520"/><use href="#pb" x="975" y="1544"/><use href="#pb" x="975" y="1567"/><use href="#pb" x="975" y="1590"/><use href="#pb" x="975" y="1613"/><use href="#pb" x="975" y="1636"/><use href="#pxl" x="975" y="1659"/><use href="#plus" x="996" y="1659"/>
<text class="l" x="990" y="1481">ϑt</text><text class="l" x="990" y="1504">ϑc</text><text class="lr" x="990" y="1527">Off</text><text class="l" x="990" y="1551">Td</text><text class="l" x="990" y="1574">S</text><text class="l" x="990" y="1597">Kp%</text><text class="l" x="990" y="1620">Ki%</text><text class="l" x="990" y="1643">Inv</text>
<text class="c" x="1137" y="1481">Heizraum</text><text class="c" x="1137" y="1504">Heizung</text>
<text class="e" x="1285" y="1481">V</text><text class="e" x="1285" y="1504">O</text><text class="e" x="1285" y="1527">C</text><text class="e" x="1285" y="1551">Error</text>
<use href="#pg" x="1299" y="1474"/><use href="#pg" x="1299" y="1497"/><use href="#pg" x="1299" y="1520"/><use href="#pg" x="1299" y="1544"/><use href="#plus" x="1278" y="1567"/><use href="#pxr" x="1299" y="1567"/>
<text class="ve" x="957" y="1470">26,811</text><text class="ve" x="957" y="1493">26,2°</text><text class="re" x="957" y="1516">Aus</text>
<text class="v" x="877" y="1540">140 s</text><text class="ve" x="957" y="1540">140</text>
<text class="v" x="877" y="1563">10 s</text><text class="ve" x="957" y="1563">10</text>
<text class="v" x="877" y="1586">1,5 %</text><text class="ve" x="957" y="1586">1,5</text>
<text class="v" x="877" y="1609">0,05 %</text><text class="ve" x="957" y="1609">0,05</text>
<text class="ve" x="957" y="1632">Aus</text>
<text class="v" x="1313" y="1470">10</text><text class="v" x="1313" y="1493">Ein</text><text class="v" x="1313" y="1516">Aus</text><text class="v" x="1313" y="1540">Aus</text>
</g>
<g id="hm-in-1"><rect class="rb" x="617" y="1462" width="186" height="24"/><rect class="rc" x="803" y="1462" width="57" height="24"/><use href="#pxr" x="860" y="1474"/><use href="#capLI" x="607" y="1474"/><use href="#dOut" x="831" y="1474"/><text class="s" x="642" y="1479">AQf: Intelligente Te...</text></g>
<g id="hm-in-2"><rect class="rb" x="617" y="1486" width="186" height="23"/><rect class="rc" x="803" y="1486" width="57" height="23"/><use href="#pxr" x="860" y="1497"/><use href="#capLI" x="607" y="1497.500"/><use href="#dOut" x="831" y="1497"/><text class="b" x="642" y="1505">ϑ HK1</text></g>
<g id="hm-in-3"><rect class="rb" x="617" y="1509" width="186" height="23"/><rect class="yc" x="803" y="1509" width="57" height="23"/><use href="#pxr" x="860" y="1520"/><use href="#capLI" x="607" y="1520.500"/><use href="#dOut" x="831" y="1521"/><text class="s" x="642" y="1526">Qp: Intelligente Tem...</text></g>
<g id="hm-in-4"><rect class="rb" x="617" y="1532" width="186" height="24"/><rect class="st" x="630" y="1533.500" width="79" height="21"/><rect class="yc" x="803" y="1532" width="57" height="24"/><use href="#pg" x="860" y="1544"/><use href="#capLG" x="607" y="1544"/><text class="s" x="642" y="1548">Heizungsmischer M...</text><text class="k" x="832" y="1552">VI</text></g>
<g id="hm-in-5"><rect class="rb" x="617" y="1556" width="186" height="22"/><rect class="st" x="630" y="1557.500" width="6" height="19"/><rect class="yc" x="803" y="1556" width="57" height="22"/><use href="#pg" x="860" y="1567"/><use href="#capLG" x="607" y="1567"/><text class="s" x="642" y="1572">Heizungsmischer R...</text><text class="k" x="832" y="1574">VI</text></g>
<g id="hm-in-6"><rect class="rb" x="617" y="1578" width="186" height="24"/><rect class="st" x="630" y="1579.500" width="3" height="21"/><rect class="yc" x="803" y="1578" width="57" height="24"/><use href="#pg" x="860" y="1590"/><use href="#capLG" x="607" y="1590"/><text class="s" x="642" y="1595">Heizungsmischer R...</text><text class="k" x="832" y="1597">VI</text></g>
<g id="hm-in-7"><rect class="rb" x="617" y="1602" width="186" height="22"/><rect class="yc" x="803" y="1602" width="57" height="22"/><use href="#pg" x="860" y="1613"/><use href="#capLG" x="607" y="1613"/><text class="s" x="642" y="1618">Heizungsmischer R...</text><text class="k" x="832" y="1620">VI</text></g>
<g id="hm-in-8"><rect class="rb" x="617" y="1624" width="186" height="24"/><rect class="rc" x="803" y="1624" width="57" height="24"/><use href="#pxr" x="860" y="1636"/><use href="#capLI" x="607" y="1636"/><use href="#dOut" x="831" y="1636"/><text class="b" x="643" y="1643">C: FBH</text></g>

<g id="mischer-auf"><rect class="rb" x="1471" y="1486" width="176" height="23"/><rect class="yc" x="1412" y="1486" width="59" height="23"/><use href="#pi" x="1412" y="1498"/><use href="#capRG" x="1667" y="1497.500"/><text class="k" x="1441" y="1505">Q1</text><text class="b" x="1486" y="1505">Mischer ↑</text></g>
<g id="mischer-zu"><rect class="rb" x="1471" y="1509" width="176" height="24"/><rect class="rc" x="1412" y="1509" width="59" height="24"/><use href="#pi" x="1412" y="1521"/><use href="#capRG" x="1667" y="1521"/><text class="k" x="1441" y="1529">Q2</text><text class="b" x="1486" y="1529">Mischer ↓</text></g>
<g id="mischer-ref"><rect class="rb" x="1471" y="1533" width="176" height="23"/><rect class="rc" x="1412" y="1533" width="59" height="23"/><use href="#pxl" x="1412" y="1544"/><use href="#capRI" x="1667" y="1544.500"/><use href="#dIn" x="1442" y="1544"/><text class="s" x="1483" y="1548">I4: Heizungsmischer...</text></g>
<g id="s2-in-1"><rect class="rb" x="1748" y="1439" width="185" height="23"/><rect class="rc" x="1933" y="1439" width="58" height="23"/><use href="#pxr" x="1991" y="1451"/><use href="#capLI" x="1738" y="1450.500"/><use href="#dOut" x="1962" y="1451"/><text class="s" x="1772" y="1455">Txt: Heizungsmisch...</text></g>
<g id="s2-in-2"><rect class="rb" x="1748" y="1486" width="185" height="23"/><rect class="rc" x="1933" y="1486" width="58" height="23"/><use href="#pxr" x="1991" y="1498"/><use href="#capLI" x="1738" y="1497.500"/><use href="#dOut" x="1962" y="1498"/><text class="b" x="1773" y="1505">O: Dividierer</text></g>
<g id="s2-in-3"><rect class="rb" x="1748" y="1509" width="185" height="23"/><rect class="rc" x="1933" y="1509" width="58" height="23"/><use href="#pxr" x="1991" y="1520"/><use href="#capLI" x="1738" y="1520.500"/><use href="#dOut" x="1962" y="1520"/><text class="s" x="1772" y="1525">Val: Heizungsmisch...</text></g>
<g id="status-2">
<rect class="bb" x="2105" y="1381" width="325" height="175"/><rect class="hd" x="2105" y="1381" width="325" height="36"/><rect class="gb" x="2106" y="1417" width="323" height="23"/>
<text class="t" x="2114" y="1406" textLength="232" lengthAdjust="spacingAndGlyphs">Heizungsmischer Status</text>
<use href="#bg" x="2385" y="1400"/><use href="#bi" x="2411" y="1400"/>
<text class="g" x="2267" y="1436">Status</text>
<use href="#pi" x="2105" y="1452"/><use href="#pi" x="2105" y="1474"/><use href="#pi" x="2105" y="1498"/><use href="#pi" x="2105" y="1520"/><use href="#pxl" x="2105" y="1544"/><use href="#plus" x="2126" y="1544"/>
<text class="l" x="2121" y="1459">I1</text><text class="l" x="2121" y="1481">I2</text><text class="l" x="2121" y="1505">I3</text><text class="l" x="2121" y="1527">I4</text>
<text class="c" x="2267" y="1459">Heizraum</text><text class="c" x="2267" y="1481">Heizung</text>
<use href="#plus" x="2409" y="1544"/><use href="#pxr" x="2430" y="1544"/>
<text class="v" x="2082" y="1448">--</text>
</g>

<g id="pumpe-in"><rect class="rb" x="617" y="1774" width="186" height="24"/><rect class="yc" x="803" y="1774" width="58" height="24"/><use href="#pxr" x="861" y="1786"/><use href="#capLI" x="607" y="1786"/><use href="#dOut" x="831" y="1786"/><text class="s" x="642" y="1791">Qp: Intelligente Tem...</text></g>
<g id="pumpe">
<rect class="bb" x="975" y="1739" width="162" height="81"/><rect class="hd" x="975" y="1739" width="162" height="34"/>
<text class="t" x="984" y="1763" textLength="84" lengthAdjust="spacingAndGlyphs">Pumpe...</text>
<use href="#bg" x="1093" y="1757"/><use href="#bi" x="1119" y="1757"/>
<use href="#pi" x="975" y="1786"/><use href="#pxl" x="975" y="1809"/><use href="#plus" x="996" y="1809"/>
<text class="l" x="990" y="1793">Off</text><text class="c" x="1060" y="1791">Imp...</text><text class="er" x="1121" y="1793">P</text>
<use href="#pg" x="1137" y="1786"/><use href="#inv" x="1138" y="1786"/>
<text class="ve" x="958" y="1782">Ein</text><text class="r" x="1154" y="1782">Ein</text>
</g>
<g id="tastsc-4">
<rect class="bb" x="1263" y="1739" width="163" height="127"/><rect class="hd" x="1263" y="1739" width="163" height="35"/>
<text class="t" x="1272" y="1763" textLength="82" lengthAdjust="spacingAndGlyphs">Tastsc...</text>
<use href="#bg" x="1380" y="1757"/><use href="#bi" x="1407" y="1757"/>
<use href="#pi" x="1263" y="1786"/><use href="#pxl" x="1263" y="1809"/><use href="#plus" x="1284" y="1809"/>
<text class="l" x="1277" y="1793">Tr</text><text class="e" x="1411" y="1793">O</text><text class="e" x="1411" y="1815">Off</text><text class="e" x="1411" y="1839">On</text>
<use href="#pg" x="1426" y="1786"/><use href="#pg" x="1426" y="1808"/><use href="#pg" x="1426" y="1832"/><use href="#plus" x="1405" y="1855"/><use href="#pxr" x="1426" y="1855"/>
<text class="ve" x="1246" y="1782">Ein</text><text class="v" x="1442" y="1782">Aus</text><text class="v" x="1442" y="1804">Aus</text><text class="v" x="1442" y="1828">Aus</text>
</g>
<g id="heizkreispumpe">
<rect class="bb" x="1540" y="1715" width="323" height="175"/><rect class="hd" x="1540" y="1715" width="323" height="36"/><rect class="gb" x="1541" y="1751" width="321" height="23"/>
<text class="t" x="1548" y="1740" textLength="154" lengthAdjust="spacingAndGlyphs">Heizkreispumpe</text>
<use href="#bg" x="1820" y="1734"/><use href="#bi" x="1846" y="1734"/>
<text class="g" x="1702" y="1770">EIB-Taster</text>
<use href="#pi" x="1540" y="1787"/><use href="#pi" x="1540" y="1808"/><use href="#pi" x="1540" y="1832"/><use href="#pi" x="1540" y="1855"/><use href="#pxl" x="1540" y="1878"/><use href="#plus" x="1561" y="1878"/>
<text class="l" x="1555" y="1794">Tg</text><text class="l" x="1555" y="1815">Off</text><text class="l" x="1555" y="1839">On</text><text class="l" x="1555" y="1862">S</text>
<text class="c" x="1702" y="1794">Heizraum</text><text class="c" x="1702" y="1815">Heizung</text><text class="e" x="1848" y="1794">O</text>
<use href="#pg" x="1863" y="1786"/><use href="#plus" x="1843" y="1809"/><use href="#pxr" x="1863" y="1809"/>
<text class="ve" x="1522" y="1782">Aus</text><text class="ve" x="1522" y="1804">Aus</text><text class="ve" x="1522" y="1828">Aus</text><text class="ve" x="1524" y="1851">Ein</text><text class="v" x="1881" y="1782">Ein</text>
</g>
<g id="i19"><rect class="rb" x="1182" y="1878" width="185" height="24"/><rect class="yc" x="1367" y="1878" width="59" height="24"/><use href="#capLG" x="1172" y="1890"/><use href="#pg" x="1426" y="1890"/><text class="s" x="1208" y="1892">A1.1.1Q19 X Heizkr...</text><text class="k" x="1396" y="1897">I</text></g>
<g id="q19"><rect class="rb" x="2037" y="1774" width="176" height="24"/><rect class="yc" x="1979" y="1774" width="58" height="24"/><use href="#pi" x="1979" y="1786"/><use href="#capRG" x="2233" y="1786"/><text class="k" x="2008" y="1793">Q</text><text class="s" x="2050" y="1790">A1.1.1Q19 X Heizkr...</text></g>
</svg>
